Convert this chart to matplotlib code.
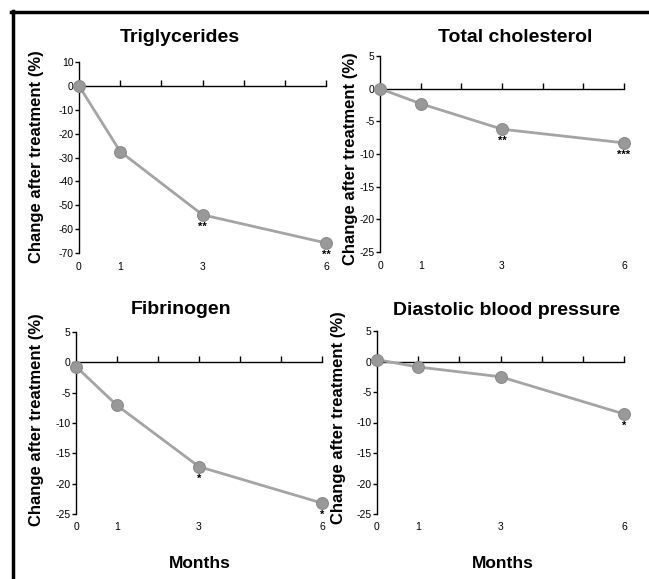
import matplotlib
matplotlib.use("Agg")
import matplotlib.pyplot as plt
from matplotlib.lines import Line2D

plt.rcParams['font.family'] = ['Liberation Sans', 'DejaVu Sans']

months = [0, 1, 3, 6]
month_labels = ["0", "1", "3", "6"]

titles = ["Triglycerides", "Total cholesterol", "Fibrinogen", "Diastolic blood pressure"]
triglycerides = [0, -27.5, -54, -65.8]
total_cholesterol = [0, -2.3, -6.2, -8.3]
fibrinogen = [-0.7, -7.1, -17.2, -23.2]
diastolic_bp = [0.3, -0.9, -2.5, -8.6]
series = [triglycerides, total_cholesterol, fibrinogen, diastolic_bp]

sig_trig = ["", "", "**", "**"]
sig_chol = ["", "", "**", "***"]
sig_fib = ["", "", "*", "*"]
sig_dbp = ["", "", "", "*"]
sigs = [sig_trig, sig_chol, sig_fib, sig_dbp]

yticks_trig = [10, 0, -10, -20, -30, -40, -50, -60, -70]
yticks_small = [5, 0, -5, -10, -15, -20, -25]
yticks = [yticks_trig, yticks_small, yticks_small, yticks_small]
ylims = [(-70, 10), (-25, 5), (-25, 5), (-25, 5)]

W, H = 649, 579
fig = plt.figure(figsize=(W / 100, H / 100), dpi=100)

# panel pixel boxes: left, right (x=0..6), top (ymax), bottom (ymin)
boxes = [
    (79, 326, 62, 253),
    (380, 624, 56, 252),
    (76, 322, 332, 514),
    (377, 624, 331, 514),
]
title_pos = [(180, 38), (515, 38), (181, 310), (507, 311)]
ylabel_pos = [(37, 157), (351, 159), (37, 420), (338, 418)]
months_pos = [None, None, (200, 563), (503, 563)]

gray = "#a4a4a4"
for i, (l, r, t, b) in enumerate(boxes):
    ax = fig.add_axes([l / W, 1 - b / H, (r - l) / W, (b - t) / H])
    ax.set_xlim(0, 6)
    ax.set_ylim(*ylims[i])
    for s in ["top", "right"]:
        ax.spines[s].set_visible(False)
    ax.spines["bottom"].set_position(("data", 0))
    ax.spines["left"].set_linewidth(1.0)
    ax.spines["bottom"].set_linewidth(1.0)
    ax.set_xticks([1, 2, 3, 4, 5, 6])
    ax.tick_params(axis="x", direction="in", length=4, width=1, labelbottom=False)
    ax.set_yticks(yticks[i])
    ax.set_yticklabels([str(v) for v in yticks[i]])
    ax.tick_params(axis="y", direction="out", length=3, width=1, labelsize=7.5, pad=1)
    ax.patch.set_alpha(0)

    ax.plot(months, series[i], color=gray, lw=2, marker="o", ms=8.5,
            markerfacecolor="#999999", markeredgecolor="#8a8a8a",
            markeredgewidth=0.8, clip_on=False, zorder=3)

    for x, lab in zip(months, month_labels):
        ax.text(x, -0.045, lab, transform=ax.get_xaxis_transform(),
                ha="center", va="top", fontsize=7.5)

    for x, y, s in zip(months, series[i], sigs[i]):
        if s:
            ax.annotate(s, (x, y), xytext=(0, -5), textcoords="offset points",
                        ha="center", va="top", fontsize=8, fontweight="bold")

    tx, ty = title_pos[i]
    fig.text(tx / W, 1 - ty / H, titles[i], fontsize=14, fontweight="bold",
             ha="center", va="center")
    lx, ly = ylabel_pos[i]
    fig.text(lx / W, 1 - ly / H, "Change after treatment (%)", fontsize=12,
             fontweight="bold", rotation=90, ha="center", va="center")
    if months_pos[i] is not None:
        mx, my = months_pos[i]
        fig.text(mx / W, 1 - my / H, "Months", fontsize=12.5, fontweight="bold",
                 ha="center", va="center")

# border lines
fig.add_artist(Line2D([11 / W, 1], [1 - 12 / H, 1 - 12 / H], color="black", lw=2.5,
                      transform=fig.transFigure))
fig.add_artist(Line2D([12.5 / W, 12.5 / W], [0, 1 - 11 / H], color="black", lw=2.5,
                      transform=fig.transFigure))

fig.savefig("out.png", dpi=100)
